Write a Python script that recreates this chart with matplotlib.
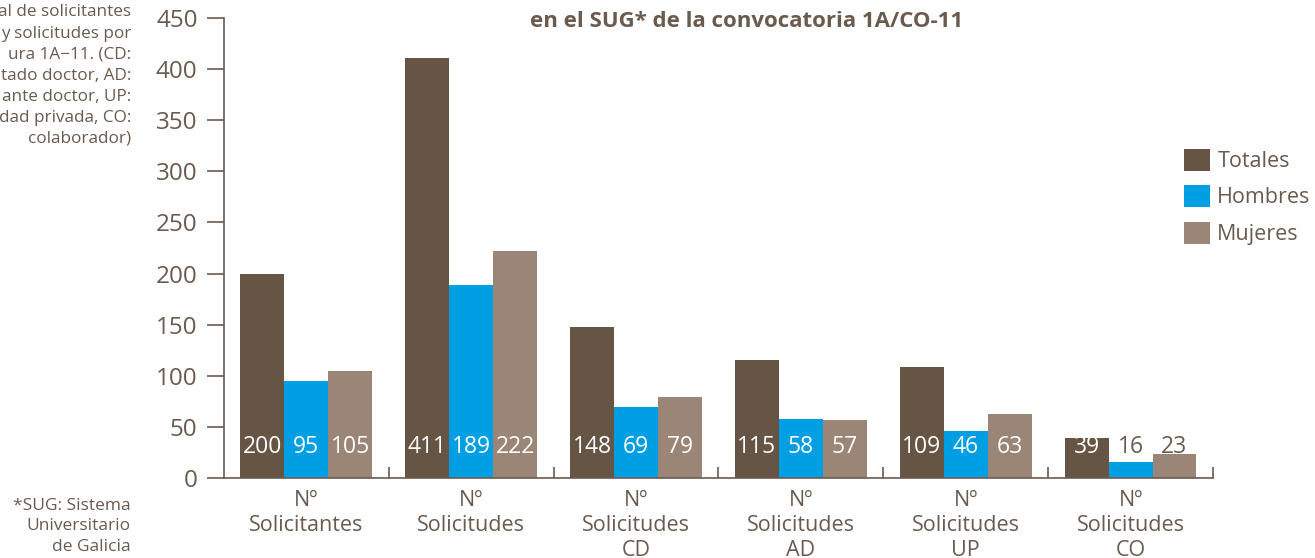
import numpy as np
import matplotlib
matplotlib.use("Agg")
import matplotlib.pyplot as plt

categories = ["Nº\nSolicitantes", "Nº\nSolicitudes", "Nº\nSolicitudes\nCD",
              "Nº\nSolicitudes\nAD", "Nº\nSolicitudes\nUP", "Nº\nSolicitudes\nCO"]
totales = [200, 411, 148, 115, 109, 39]
hombres = [95, 189, 69, 58, 46, 16]
mujeres = [105, 222, 79, 57, 63, 23]
series_names = ["Totales", "Hombres", "Mujeres"]
yticks = [0, 50, 100, 150, 200, 250, 300, 350, 400, 450]

text_col = "#6b5a4e"
colors = ["#665445", "#009fe3", "#9a8577"]

plt.rcParams["font.family"] = ["Open Sans", "DejaVu Sans"]

fig = plt.figure(figsize=(13.15, 5.58), dpi=100)
ax = fig.add_axes([0.1703, 0.1434, 0.7521, 0.8243])

x = np.arange(len(categories))
w = 0.8 / 3
for i, (vals, name) in enumerate(zip([totales, hombres, mujeres], series_names)):
    pos = x + (i - 1) * w
    ax.bar(pos, vals, width=w, color=colors[i], label=name, linewidth=0)
    for p, v in zip(pos, vals):
        c = "white" if v >= 35 else text_col
        ax.text(p, 30, str(v), ha="center", va="center", fontsize=16.5,
                color=c)

ax.set_xlim(-0.5, len(categories) - 0.5)
ax.set_ylim(0, 450)
ax.set_yticks(yticks)

# categorias centradas, marcas entre grupos hacia arriba
ax.set_xticks(x)
ax.set_xticklabels(categories, fontsize=15.5, color=text_col, linespacing=1.22)
ax.tick_params(axis="x", length=0, pad=9)
ax.set_xticks(x + 0.5, minor=True)
ax.tick_params(axis="x", which="minor", direction="in", length=8,
               color=text_col, width=1.2)
ax.tick_params(axis="y", direction="out", length=12, width=1.2,
               color=text_col, labelcolor=text_col, labelsize=17.5, pad=7)

for s in ["top", "right"]:
    ax.spines[s].set_visible(False)
for s in ["left", "bottom"]:
    ax.spines[s].set_color(text_col)
    ax.spines[s].set_linewidth(1.2)

leg = ax.legend(loc="upper left", bbox_to_anchor=(0.962, 0.735), frameon=False,
                fontsize=15.5, handlelength=1.2, handleheight=1.2,
                handletextpad=0.35, labelspacing=0.62, borderaxespad=0)
for t in leg.get_texts():
    t.set_color(text_col)

fig.text(0.568, 0.962, "en el SUG* de la convocatoria 1A/CO-11",
         ha="center", va="center", fontsize=16, fontweight="bold",
         color=text_col)

fig.text(0.0996, 0.992,
         "al de solicitantes\ny solicitudes por\nura 1A\u221211. (CD:\n"
         "tado doctor, AD:\nante doctor, UP:\n"
         "dad privada, CO:\ncolaborador)",
         ha="right", va="top", fontsize=12.3, color=text_col,
         linespacing=1.42)

fig.text(0.0996, 0.108, "*SUG: Sistema\nUniversitario\nde Galicia",
         ha="right", va="top", fontsize=12.5, color=text_col,
         linespacing=1.38)

fig.savefig("out.png", dpi=100)
